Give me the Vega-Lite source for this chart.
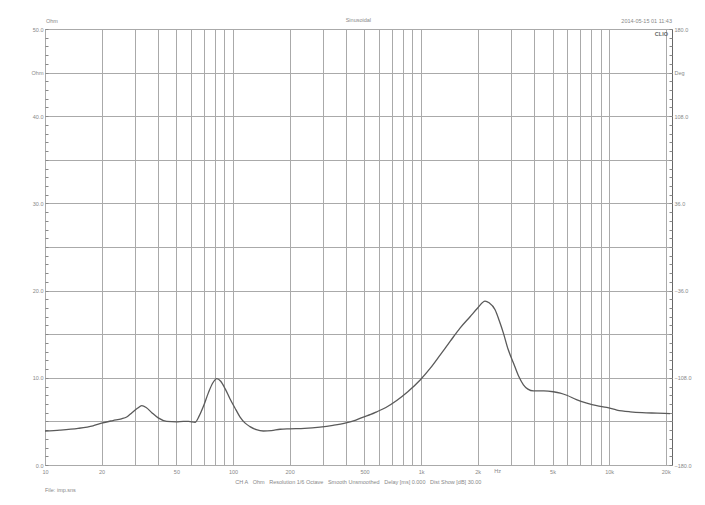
{
  "$schema": "https://vega.github.io/schema/vega-lite/v6.json",
  "width": 627,
  "height": 436,
  "autosize": "none",
  "padding": {"left": 45, "top": 29, "right": 33, "bottom": 40},
  "background": "white",
  "config": {
    "view": {"stroke": "#666", "strokeWidth": 1},
    "font": "Liberation Sans",
    "axis": {"labelFont": "Liberation Sans", "labelFontSize": 5.5, "labelColor": "#888", "domain": false, "gridColor": "#aaa", "gridWidth": 1, "tickColor": "#888", "title": null}
  },
  "data": {"values": [
    {"f": 10, "z": 3.9}, {"f": 12, "z": 4.0}, {"f": 15, "z": 4.2}, {"f": 18, "z": 4.5},
    {"f": 20, "z": 4.8}, {"f": 23, "z": 5.1}, {"f": 25.5, "z": 5.3}, {"f": 27.2, "z": 5.5},
    {"f": 29, "z": 6.0}, {"f": 31, "z": 6.5}, {"f": 32.7, "z": 6.8}, {"f": 34.5, "z": 6.6},
    {"f": 37, "z": 6.0}, {"f": 40, "z": 5.4}, {"f": 44.4, "z": 5.0}, {"f": 50, "z": 4.95},
    {"f": 54.4, "z": 5.0}, {"f": 58, "z": 5.0}, {"f": 62.8, "z": 4.9}, {"f": 66, "z": 5.6},
    {"f": 69.5, "z": 6.7}, {"f": 74, "z": 8.3}, {"f": 78, "z": 9.4}, {"f": 81.9, "z": 9.9},
    {"f": 86, "z": 9.6}, {"f": 91, "z": 8.7}, {"f": 96.3, "z": 7.6}, {"f": 102, "z": 6.6},
    {"f": 109, "z": 5.5}, {"f": 116, "z": 4.8}, {"f": 123, "z": 4.4}, {"f": 133, "z": 4.05},
    {"f": 145, "z": 3.9}, {"f": 160, "z": 3.95}, {"f": 178, "z": 4.1}, {"f": 200, "z": 4.15},
    {"f": 240, "z": 4.2}, {"f": 290, "z": 4.35}, {"f": 340, "z": 4.55}, {"f": 394, "z": 4.8},
    {"f": 450, "z": 5.15}, {"f": 493, "z": 5.5}, {"f": 540, "z": 5.8}, {"f": 581, "z": 6.1},
    {"f": 650, "z": 6.6}, {"f": 742, "z": 7.4}, {"f": 850, "z": 8.4}, {"f": 989, "z": 9.75},
    {"f": 1120, "z": 11.1}, {"f": 1262, "z": 12.6}, {"f": 1430, "z": 14.2}, {"f": 1611, "z": 15.7},
    {"f": 1822, "z": 17.0}, {"f": 2000, "z": 18.0}, {"f": 2188, "z": 18.8}, {"f": 2300, "z": 18.6},
    {"f": 2475, "z": 17.8}, {"f": 2600, "z": 16.6}, {"f": 2743, "z": 15.1}, {"f": 2900, "z": 13.3},
    {"f": 3099, "z": 11.7}, {"f": 3300, "z": 10.2}, {"f": 3502, "z": 9.2}, {"f": 3700, "z": 8.7},
    {"f": 3956, "z": 8.5}, {"f": 4500, "z": 8.5}, {"f": 5054, "z": 8.4}, {"f": 5500, "z": 8.25},
    {"f": 5953, "z": 8.0}, {"f": 6700, "z": 7.5}, {"f": 7608, "z": 7.1}, {"f": 8600, "z": 6.8},
    {"f": 9720, "z": 6.6}, {"f": 11000, "z": 6.3}, {"f": 12940, "z": 6.1}, {"f": 15000, "z": 6.0},
    {"f": 18000, "z": 5.95}, {"f": 21100, "z": 5.9}
  ]},
  "layer": [
    {
      "mark": {"type": "line", "color": "#5a5a5a", "strokeWidth": 1.3, "interpolate": "monotone", "clip": true},
      "encoding": {
        "x": {"field": "f", "type": "quantitative",
          "scale": {"type": "log", "domain": [10, 21600], "nice": false, "zero": false},
          "axis": {"values": [10,20,30,40,50,60,70,80,90,100,200,300,400,500,600,700,800,900,1000,2000,3000,4000,5000,6000,7000,8000,9000,10000,20000],
            "grid": true, "ticks": false, "labelPadding": 4, "labelOverlap": false, "labelBound": false, "labelFlush": false,
            "labelExpr": "indexof([10,20,50,100,200,500,1000,2000,5000,10000,20000], datum.value) >= 0 ? (datum.value >= 1000 ? (datum.value/1000) + 'k' : datum.value + '') : ''"}},
        "y": {"field": "z", "type": "quantitative",
          "scale": {"domain": [0, 50], "nice": false},
          "axis": {"orient": "left", "values": [0,1,2,3,4,5,6,7,8,9,10,11,12,13,14,15,16,17,18,19,20,21,22,23,24,25,26,27,28,29,30,31,32,33,34,35,36,37,38,39,40,41,42,43,44,45,46,47,48,49,50],
            "grid": true,
            "gridOpacity": {"condition": {"test": "datum.value % 5 === 0", "value": 1}, "value": 0},
            "tickSize": -3, "labelPadding": 5, "labelOverlap": false, "labelBound": false, "labelFlush": false,
            "labelExpr": "datum.value === 45 ? 'Ohm' : (datum.value % 10 === 0 ? format(datum.value, '.1f') : '')"}}
      }
    },
    {
      "mark": {"type": "line", "opacity": 0},
      "encoding": {
        "x": {"field": "f", "type": "quantitative"},
        "y": {"field": "z", "type": "quantitative",
          "axis": {"orient": "right", "values": [0,1,2,3,4,5,6,7,8,9,10,11,12,13,14,15,16,17,18,19,20,21,22,23,24,25,26,27,28,29,30,31,32,33,34,35,36,37,38,39,40,41,42,43,44,45,46,47,48,49,50],
            "grid": false, "tickSize": -3, "labelPadding": 5, "labelOverlap": false, "labelBound": false, "labelFlush": false,
            "labelExpr": "datum.value === 45 ? 'Deg' : (datum.value % 10 === 0 ? format(datum.value * 7.2 - 180, '.1f') : '')"}}
      }
    },
    {
      "data": {"values": [{"t": "Ohm"}]},
      "mark": {"type": "text", "align": "left", "baseline": "middle", "dx": 1, "dy": -8, "fontSize": 5.5, "color": "#888"},
      "encoding": {"x": {"datum": 10}, "y": {"datum": 50, "axis": null}, "text": {"field": "t"}}
    },
    {
      "data": {"values": [{"t": "Sinusoidal"}]},
      "mark": {"type": "text", "align": "center", "baseline": "middle", "dy": -9, "fontSize": 5.5, "color": "#888"},
      "encoding": {"x": {"datum": 464}, "y": {"datum": 50, "axis": null}, "text": {"field": "t"}}
    },
    {
      "data": {"values": [{"t": "2014-05-15 01 11:43"}]},
      "mark": {"type": "text", "align": "right", "baseline": "middle", "dy": -8, "fontSize": 5.5, "color": "#888"},
      "encoding": {"x": {"datum": 21600}, "y": {"datum": 50, "axis": null}, "text": {"field": "t"}}
    },
    {
      "data": {"values": [{"t": "CLIO"}]},
      "mark": {"type": "text", "align": "right", "baseline": "middle", "dx": -4, "dy": 5, "fontSize": 5.5, "fontWeight": "bold", "color": "#666"},
      "encoding": {"x": {"datum": 21600}, "y": {"datum": 50, "axis": null}, "text": {"field": "t"}}
    },
    {
      "data": {"values": [{"t": "Hz"}]},
      "mark": {"type": "text", "align": "center", "baseline": "top", "dy": 4, "fontSize": 5.5, "color": "#888"},
      "encoding": {"x": {"datum": 2550}, "y": {"datum": 0, "axis": null}, "text": {"field": "t"}}
    },
    {
      "data": {"values": [{"t": "CH A\u00a0\u00a0\u00a0Ohm\u00a0\u00a0\u00a0Resolution 1/6 Octave\u00a0\u00a0\u00a0Smooth Unsmoothed\u00a0\u00a0\u00a0Delay [ms] 0.000\u00a0\u00a0\u00a0Dist Show [dB] 30.00"}]},
      "mark": {"type": "text", "align": "center", "baseline": "middle", "dy": 17, "fontSize": 5.5, "color": "#888"},
      "encoding": {"x": {"datum": 464}, "y": {"datum": 0, "axis": null}, "text": {"field": "t"}}
    },
    {
      "data": {"values": [{"t": "File: imp.sns"}]},
      "mark": {"type": "text", "align": "left", "baseline": "middle", "dy": 25, "fontSize": 5.5, "color": "#888"},
      "encoding": {"x": {"datum": 10}, "y": {"datum": 0, "axis": null}, "text": {"field": "t"}}
    }
  ],
  "resolve": {"axis": {"y": "independent"}}
}
